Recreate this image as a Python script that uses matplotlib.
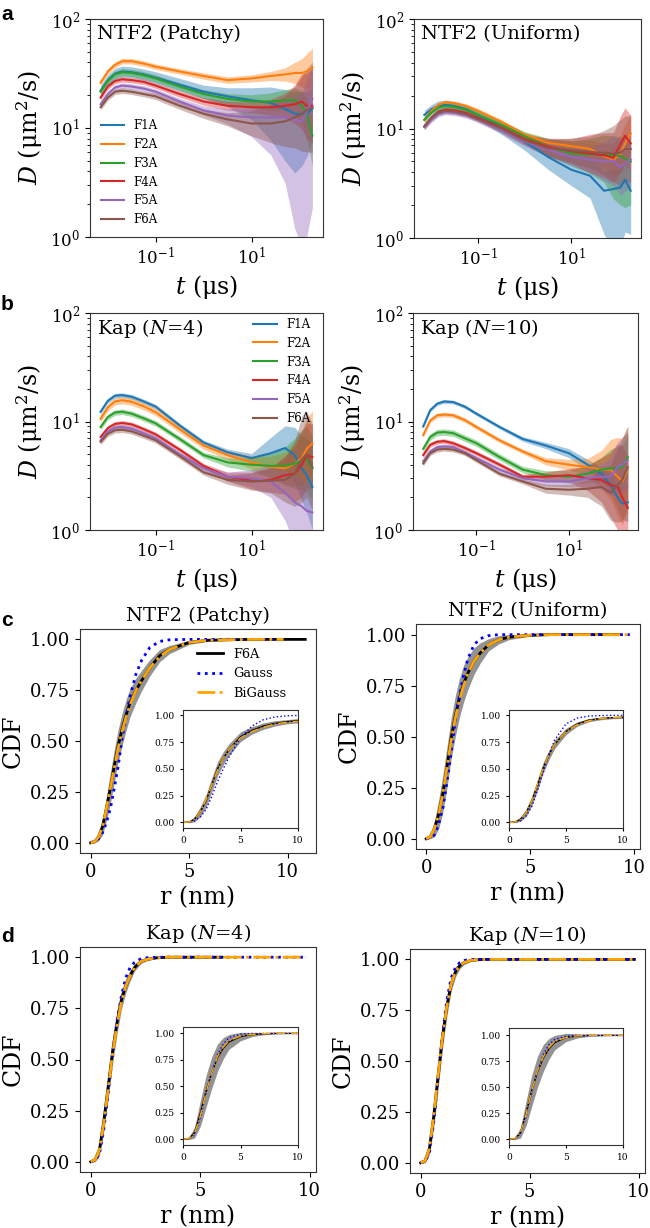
import numpy as np
import matplotlib
matplotlib.use("Agg")
import matplotlib.pyplot as plt
from matplotlib.ticker import FixedLocator, NullLocator

plt.rcParams['font.family'] = 'DejaVu Serif'
plt.rcParams['mathtext.fontset'] = 'dejavuserif'
plt.rcParams['axes.edgecolor'] = '#333333'

#time grid, log10(t / us)
logt = [-2.15, -2.0, -1.85, -1.7, -1.5, -1.25, -1.0, -0.5, 0.0, 0.5, 1.0, 1.4, 1.7, 1.9, 2.05, 2.15, 2.27]
names = ["F1A", "F2A", "F3A", "F4A", "F5A", "F6A"]
colors = ["#1f77b4", "#ff7f0e", "#2ca02c", "#d62728", "#9467bd", "#8c564b"]

#panel a, NTF2 (Patchy): D in um^2/s, band factors below (lo) and above (hi)
patchy_D = [
    [22, 27.5, 31.5, 33, 32.5, 31, 29, 25, 21.5, 19.5, 18, 17, 15, 13.5, 13.5, 13.5, 15],
    [26, 33, 38, 41, 41, 39, 36.5, 33, 30, 27.5, 28.5, 30, 31, 32, 32, 33, 36],
    [21.5, 27, 31, 32.5, 32, 30.5, 28.5, 24, 20.5, 18.5, 17.5, 17.5, 18, 18, 16, 13.5, 8.5],
    [19, 24, 27, 28, 27.5, 26.5, 24.5, 20.5, 17.5, 16, 15.5, 15.5, 16, 16.5, 17.5, 16, 16],
    [16.5, 20.5, 23.5, 24.5, 24, 23, 21.5, 17.5, 14.5, 13, 12.5, 12.5, 12.5, 12, 11.5, 14, 18.5],
    [15.5, 19, 21.5, 22, 21.5, 20.5, 19.5, 16, 13.5, 12, 11, 11, 11.5, 12.5, 13.5, 14.5, 15.5]]
patchy_lo = [
    [1.12, 1.12, 1.12, 1.12, 1.12, 1.12, 1.13, 1.14, 1.15, 1.25, 1.5, 2.2, 3.0, 3.5, 3.0, 2.5, 2.0],
    [1.06, 1.06, 1.06, 1.06, 1.06, 1.06, 1.06, 1.06, 1.07, 1.07, 1.08, 1.1, 1.15, 1.25, 1.35, 1.45, 1.5],
    [1.08, 1.08, 1.08, 1.08, 1.08, 1.08, 1.08, 1.08, 1.1, 1.12, 1.15, 1.2, 1.25, 1.35, 1.5, 1.7, 1.9],
    [1.06, 1.06, 1.06, 1.06, 1.06, 1.06, 1.06, 1.07, 1.08, 1.1, 1.12, 1.18, 1.3, 1.5, 1.8, 2.0, 2.2],
    [1.06, 1.06, 1.06, 1.06, 1.06, 1.06, 1.06, 1.07, 1.1, 1.2, 1.5, 2.2, 4.0, 10, 14, 14, 10],
    [1.06, 1.06, 1.06, 1.06, 1.06, 1.06, 1.07, 1.08, 1.1, 1.15, 1.3, 1.5, 1.7, 1.9, 2.2, 2.4, 2.6]]
patchy_hi = [
    [1.12, 1.12, 1.12, 1.12, 1.12, 1.12, 1.13, 1.14, 1.15, 1.2, 1.3, 1.4, 1.5, 1.6, 1.6, 1.6, 1.6],
    [1.06, 1.06, 1.06, 1.06, 1.06, 1.06, 1.06, 1.06, 1.07, 1.07, 1.08, 1.1, 1.15, 1.25, 1.35, 1.45, 1.5],
    [1.08, 1.08, 1.08, 1.08, 1.08, 1.08, 1.08, 1.08, 1.1, 1.12, 1.15, 1.2, 1.25, 1.3, 1.35, 1.4, 1.4],
    [1.06, 1.06, 1.06, 1.06, 1.06, 1.06, 1.06, 1.07, 1.08, 1.1, 1.12, 1.18, 1.3, 1.5, 1.8, 2.0, 2.2],
    [1.06, 1.06, 1.06, 1.06, 1.06, 1.06, 1.06, 1.07, 1.1, 1.15, 1.2, 1.3, 1.4, 1.6, 1.8, 2.0, 2.0],
    [1.06, 1.06, 1.06, 1.06, 1.06, 1.06, 1.07, 1.08, 1.1, 1.15, 1.3, 1.5, 1.7, 1.9, 2.2, 2.4, 2.6]]

#panel a, NTF2 (Uniform)
uniform_D = [
    [13.3, 15, 16.2, 16.5, 16, 15, 13.3, 10.2, 7.6, 5.5, 4.2, 3.7, 2.7, 2.8, 2.9, 3.4, 2.7],
    [12, 14.5, 16.5, 17.3, 17, 16, 14.5, 11.5, 8.8, 7.4, 6.9, 6.5, 5.6, 5.2, 5.8, 7.3, 9],
    [12, 14, 15.5, 16, 15.7, 14.8, 13.3, 10.8, 8.5, 6.8, 5.9, 5.8, 5.8, 5.7, 5.6, 5.3, 5],
    [10.4, 12.5, 14.2, 14.8, 14.6, 13.8, 12.5, 10.2, 8, 6.8, 6.2, 5.9, 5.7, 5.4, 7.2, 8.6, 7.3],
    [10.3, 12, 13.5, 14.2, 13.9, 13.2, 12, 9.7, 7.6, 6.4, 5.5, 5.2, 5, 5.1, 4.4, 4.8, 5.2],
    [10.5, 12.5, 14, 14.5, 14.3, 13.5, 12.2, 10, 7.8, 6.6, 6.3, 6.1, 6, 5.9, 6, 6.5, 6.5]]
uniform_lo = [
    [1.1, 1.1, 1.1, 1.1, 1.1, 1.1, 1.1, 1.15, 1.2, 1.3, 1.4, 1.6, 2.5, 3.5, 3.5, 3.0, 2.5],
    [1.05, 1.05, 1.05, 1.05, 1.05, 1.05, 1.05, 1.05, 1.05, 1.08, 1.12, 1.2, 1.3, 1.4, 1.5, 1.5, 1.5],
    [1.07, 1.07, 1.07, 1.07, 1.07, 1.07, 1.07, 1.08, 1.1, 1.2, 1.3, 1.5, 1.8, 2.5, 2.8, 2.8, 2.5],
    [1.06, 1.06, 1.06, 1.06, 1.06, 1.06, 1.06, 1.08, 1.1, 1.2, 1.3, 1.5, 1.6, 1.7, 1.8, 1.8, 1.8],
    [1.06, 1.06, 1.06, 1.06, 1.06, 1.06, 1.06, 1.08, 1.1, 1.15, 1.2, 1.3, 1.5, 1.7, 1.8, 1.8, 1.8],
    [1.06, 1.06, 1.06, 1.06, 1.06, 1.06, 1.06, 1.08, 1.1, 1.2, 1.3, 1.4, 1.6, 1.8, 2.0, 2.0, 2.0]]
uniform_hi = [
    [1.1, 1.1, 1.1, 1.1, 1.1, 1.1, 1.1, 1.15, 1.2, 1.3, 1.4, 1.5, 1.5, 1.5, 1.5, 1.5, 1.5],
    [1.05, 1.05, 1.05, 1.05, 1.05, 1.05, 1.05, 1.05, 1.05, 1.08, 1.12, 1.2, 1.3, 1.4, 1.5, 1.5, 1.5],
    [1.07, 1.07, 1.07, 1.07, 1.07, 1.07, 1.07, 1.08, 1.1, 1.2, 1.3, 1.4, 1.5, 1.5, 1.5, 1.5, 1.5],
    [1.06, 1.06, 1.06, 1.06, 1.06, 1.06, 1.06, 1.08, 1.1, 1.2, 1.3, 1.5, 1.6, 1.7, 1.8, 1.8, 1.8],
    [1.06, 1.06, 1.06, 1.06, 1.06, 1.06, 1.06, 1.08, 1.1, 1.15, 1.2, 1.3, 1.5, 1.7, 1.8, 1.8, 1.8],
    [1.06, 1.06, 1.06, 1.06, 1.06, 1.06, 1.06, 1.08, 1.1, 1.2, 1.3, 1.4, 1.6, 1.8, 2.0, 2.0, 2.0]]

#panel b, Kap (N=4)
kap4_D = [
    [12.3, 15.5, 17.3, 17.5, 16.9, 15.3, 13.7, 9.2, 6.4, 5.2, 4.6, 5.1, 5.7, 4.9, 3.7, 3.2, 2.5],
    [10.6, 13.5, 15.3, 15.7, 15.2, 13.8, 12.2, 8.5, 6, 4.9, 4.2, 3.8, 3.7, 4.1, 4.6, 5.6, 6.3],
    [8.9, 11, 12.1, 12.3, 11.8, 10.7, 9.6, 6.9, 4.9, 4.2, 4, 3.9, 3.9, 4.1, 4.4, 4.5, 3.7],
    [7.2, 8.7, 9.5, 9.7, 9.4, 8.5, 7.6, 5.5, 3.9, 3.1, 2.85, 2.9, 3.2, 3.3, 4, 4.9, 4.7],
    [6.7, 8.1, 8.8, 8.9, 8.6, 7.8, 7, 5, 3.7, 3.1, 3, 2.8, 2.2, 1.8, 1.65, 1.5, 1.45],
    [6.5, 7.7, 8.3, 8.4, 8.1, 7.4, 6.7, 4.8, 3.4, 2.9, 2.8, 2.85, 2.9, 3.3, 4.5, 5, 3.8]]
kap4_lo = [
    [1.05, 1.05, 1.05, 1.05, 1.05, 1.05, 1.05, 1.05, 1.05, 1.07, 1.1, 1.4, 1.6, 1.8, 2.0, 2.2, 2.5],
    [1.08, 1.08, 1.08, 1.08, 1.08, 1.08, 1.08, 1.08, 1.08, 1.1, 1.15, 1.25, 1.4, 1.6, 1.8, 1.9, 2.0],
    [1.06, 1.06, 1.06, 1.06, 1.06, 1.06, 1.06, 1.06, 1.06, 1.1, 1.15, 1.3, 1.5, 1.7, 1.9, 2.0, 2.0],
    [1.05, 1.05, 1.05, 1.05, 1.05, 1.05, 1.05, 1.05, 1.05, 1.1, 1.2, 1.3, 1.5, 1.8, 2.0, 2.0, 2.0],
    [1.05, 1.05, 1.05, 1.05, 1.05, 1.05, 1.05, 1.05, 1.05, 1.1, 1.2, 1.4, 1.8, 2.5, 3.0, 3.5, 3.5],
    [1.06, 1.06, 1.06, 1.06, 1.06, 1.06, 1.06, 1.06, 1.06, 1.1, 1.2, 1.3, 1.6, 2.0, 2.5, 2.5, 2.5]]
kap4_hi = [
    [1.05, 1.05, 1.05, 1.05, 1.05, 1.05, 1.05, 1.05, 1.05, 1.07, 1.1, 1.4, 1.6, 1.8, 2.0, 2.2, 2.5],
    [1.08, 1.08, 1.08, 1.08, 1.08, 1.08, 1.08, 1.08, 1.08, 1.1, 1.15, 1.25, 1.4, 1.6, 1.8, 1.9, 2.0],
    [1.06, 1.06, 1.06, 1.06, 1.06, 1.06, 1.06, 1.06, 1.06, 1.1, 1.15, 1.3, 1.5, 1.7, 1.9, 2.0, 2.0],
    [1.05, 1.05, 1.05, 1.05, 1.05, 1.05, 1.05, 1.05, 1.05, 1.1, 1.2, 1.3, 1.5, 1.8, 2.0, 2.0, 2.0],
    [1.05, 1.05, 1.05, 1.05, 1.05, 1.05, 1.05, 1.05, 1.05, 1.1, 1.2, 1.4, 1.6, 1.8, 1.8, 1.8, 1.8],
    [1.06, 1.06, 1.06, 1.06, 1.06, 1.06, 1.06, 1.06, 1.06, 1.1, 1.2, 1.3, 1.6, 2.0, 2.5, 2.5, 2.5]]

#panel b, Kap (N=10)
kap10_D = [
    [9, 12.7, 14.6, 15.3, 15.1, 13.7, 11.8, 8.9, 6.9, 6, 5.1, 4, 3.3, 2.6, 2, 1.75, 1.8],
    [7.5, 10.2, 11.4, 11.6, 11.4, 10.3, 8.9, 6.7, 5.3, 4.3, 4, 3.8, 3.6, 3.6, 3.1, 2.8, 3.6],
    [5.6, 7.2, 7.9, 8, 7.8, 7, 6.3, 4.7, 3.6, 3.2, 3.1, 3.3, 3.6, 3.7, 3.7, 3.8, 4.7],
    [4.9, 6.1, 6.5, 6.6, 6.3, 5.7, 5.1, 4, 3.1, 3.1, 3.2, 3, 2.9, 2.6, 2.5, 2.0, 1.6],
    [4.3, 5.3, 5.8, 5.9, 5.8, 5.2, 4.6, 3.6, 3, 2.8, 2.8, 3, 3.1, 3.1, 3.8, 4, 4.4],
    [4.1, 5.1, 5.5, 5.6, 5.5, 5.1, 4.4, 3.3, 2.8, 2.4, 2.35, 2.4, 2.5, 2.2, 2.6, 2.9, 3.8]]
kap10_lo = [
    [1.04, 1.04, 1.04, 1.04, 1.04, 1.04, 1.04, 1.04, 1.05, 1.07, 1.1, 1.12, 1.15, 1.2, 1.3, 1.4, 1.5],
    [1.05, 1.05, 1.05, 1.05, 1.05, 1.05, 1.05, 1.05, 1.05, 1.08, 1.12, 1.2, 1.5, 1.9, 2.3, 2.5, 2.5],
    [1.07, 1.07, 1.07, 1.07, 1.07, 1.07, 1.07, 1.07, 1.07, 1.1, 1.15, 1.2, 1.3, 1.5, 1.6, 1.6, 1.6],
    [1.05, 1.05, 1.05, 1.05, 1.05, 1.05, 1.05, 1.05, 1.05, 1.1, 1.15, 1.3, 1.6, 2.0, 2.5, 3.0, 3.0],
    [1.05, 1.05, 1.05, 1.05, 1.05, 1.05, 1.05, 1.05, 1.05, 1.1, 1.12, 1.2, 1.3, 1.5, 1.7, 1.8, 1.8],
    [1.05, 1.05, 1.05, 1.05, 1.05, 1.05, 1.05, 1.05, 1.05, 1.1, 1.12, 1.2, 1.5, 1.8, 2.2, 2.4, 2.4]]
kap10_hi = kap10_lo

#CDF data, main panels
r_main = [0, 0.2, 0.4, 0.6, 0.8, 1.0, 1.2, 1.4, 1.6, 1.8, 2.0, 2.3, 2.6, 3.0, 3.5, 4, 5, 6, 8, 9.8]
f6a_end = [10.9, 9.3, 6.0, 9.8]
cdf_f6a = [
    [0, 0.005, 0.03, 0.08, 0.17, 0.27, 0.38, 0.48, 0.56, 0.63, 0.69, 0.75, 0.8, 0.86, 0.92, 0.95, 0.985, 0.996, 1, 1],
    [0, 0.01, 0.05, 0.12, 0.22, 0.35, 0.49, 0.6, 0.69, 0.76, 0.81, 0.87, 0.91, 0.95, 0.975, 0.988, 0.997, 1, 1, 1],
    [0, 0.01, 0.06, 0.2, 0.37, 0.54, 0.68, 0.79, 0.86, 0.91, 0.95, 0.98, 0.99, 0.997, 1, 1, 1, 1, 1, 1],
    [0, 0.01, 0.07, 0.23, 0.43, 0.62, 0.77, 0.88, 0.94, 0.97, 0.985, 0.995, 0.998, 1, 1, 1, 1, 1, 1, 1]]
cdf_gauss = [
    [0, 0.01, 0.02, 0.05, 0.1, 0.17, 0.27, 0.38, 0.52, 0.62, 0.72, 0.83, 0.9, 0.96, 0.99, 0.998, 1, 1, 1, 1],
    [0, 0.005, 0.02, 0.07, 0.15, 0.28, 0.42, 0.58, 0.7, 0.8, 0.88, 0.95, 0.98, 0.995, 1, 1, 1, 1, 1, 1],
    [0, 0.005, 0.04, 0.16, 0.34, 0.53, 0.69, 0.81, 0.9, 0.95, 0.975, 0.993, 0.998, 1, 1, 1, 1, 1, 1, 1],
    [0, 0.005, 0.05, 0.2, 0.42, 0.63, 0.8, 0.91, 0.96, 0.985, 0.995, 1, 1, 1, 1, 1, 1, 1, 1, 1]]
cdf_bigauss = [
    [0, 0.005, 0.03, 0.08, 0.17, 0.27, 0.37, 0.47, 0.55, 0.62, 0.68, 0.75, 0.8, 0.86, 0.915, 0.95, 0.985, 0.996, 1, 1],
    [0, 0.01, 0.05, 0.12, 0.22, 0.35, 0.48, 0.59, 0.68, 0.75, 0.81, 0.87, 0.91, 0.95, 0.975, 0.988, 0.997, 1, 1, 1],
    [0, 0.01, 0.06, 0.19, 0.36, 0.53, 0.67, 0.78, 0.86, 0.91, 0.95, 0.98, 0.99, 0.997, 1, 1, 1, 1, 1, 1],
    [0, 0.01, 0.07, 0.23, 0.43, 0.62, 0.77, 0.88, 0.94, 0.97, 0.985, 0.995, 0.998, 1, 1, 1, 1, 1, 1, 1]]
cdf_band = [
    [0, 0.005, 0.02, 0.04, 0.06, 0.075, 0.08, 0.08, 0.08, 0.075, 0.07, 0.06, 0.05, 0.04, 0.03, 0.02, 0.01, 0.005, 0, 0],
    [0, 0.01, 0.04, 0.07, 0.09, 0.1, 0.1, 0.1, 0.095, 0.09, 0.08, 0.065, 0.05, 0.03, 0.02, 0.012, 0.005, 0, 0, 0],
    [0, 0.01, 0.03, 0.05, 0.06, 0.06, 0.055, 0.045, 0.035, 0.025, 0.018, 0.01, 0.006, 0.003, 0, 0, 0, 0, 0, 0],
    [0, 0.01, 0.03, 0.055, 0.065, 0.06, 0.05, 0.035, 0.025, 0.015, 0.01, 0.005, 0.003, 0, 0, 0, 0, 0, 0, 0]]

#CDF data, insets
r_in = [0, 0.5, 1, 1.5, 2, 2.5, 3, 3.5, 4, 5, 6, 7, 8, 9, 10]
in_f6a = [
    [0, 0.003, 0.03, 0.1, 0.2, 0.35, 0.5, 0.6, 0.68, 0.8, 0.86, 0.9, 0.925, 0.94, 0.95],
    [0, 0.003, 0.03, 0.09, 0.2, 0.35, 0.51, 0.63, 0.73, 0.85, 0.92, 0.955, 0.97, 0.978, 0.982],
    [0, 0.005, 0.06, 0.24, 0.45, 0.63, 0.77, 0.86, 0.92, 0.97, 0.99, 0.997, 1, 1, 1],
    [0, 0.005, 0.06, 0.25, 0.47, 0.65, 0.78, 0.87, 0.93, 0.98, 0.995, 1, 1, 1, 1]]
in_gauss = [
    [0, 0.002, 0.015, 0.05, 0.12, 0.24, 0.38, 0.5, 0.61, 0.79, 0.9, 0.96, 0.985, 0.995, 1.0],
    [0, 0.002, 0.015, 0.06, 0.15, 0.3, 0.47, 0.63, 0.77, 0.92, 0.975, 0.993, 0.998, 1, 1],
    [0, 0.003, 0.04, 0.2, 0.43, 0.63, 0.8, 0.9, 0.96, 0.993, 0.999, 1, 1, 1, 1],
    [0, 0.003, 0.05, 0.22, 0.46, 0.66, 0.81, 0.91, 0.96, 0.993, 1, 1, 1, 1, 1]]
in_bigauss = [
    [0, 0.003, 0.03, 0.1, 0.21, 0.35, 0.49, 0.6, 0.68, 0.79, 0.85, 0.89, 0.92, 0.935, 0.945],
    [0, 0.003, 0.03, 0.09, 0.2, 0.36, 0.51, 0.63, 0.73, 0.85, 0.915, 0.95, 0.97, 0.978, 0.982],
    [0, 0.005, 0.05, 0.22, 0.44, 0.63, 0.78, 0.87, 0.93, 0.975, 0.992, 0.998, 1, 1, 1],
    [0, 0.005, 0.06, 0.24, 0.47, 0.66, 0.79, 0.88, 0.94, 0.98, 0.996, 1, 1, 1, 1]]
in_band = [
    [0, 0.005, 0.025, 0.045, 0.06, 0.065, 0.065, 0.06, 0.055, 0.045, 0.035, 0.03, 0.025, 0.02, 0.02],
    [0, 0.005, 0.02, 0.035, 0.045, 0.05, 0.05, 0.045, 0.04, 0.03, 0.02, 0.015, 0.012, 0.01, 0.01],
    [0, 0.01, 0.05, 0.12, 0.15, 0.15, 0.13, 0.1, 0.07, 0.04, 0.02, 0.01, 0.005, 0, 0],
    [0, 0.01, 0.05, 0.12, 0.15, 0.15, 0.13, 0.1, 0.07, 0.04, 0.02, 0.01, 0.005, 0, 0]]

cdf_titles = ["NTF2 (Patchy)", "NTF2 (Uniform)", "Kap ($N$=4)", "Kap ($N$=10)"]

#figure, axes placed in pixels
W, H = 650, 1228
fig = plt.figure(figsize=(6.5, 12.28), dpi=100)


def box(x0, y0, x1, y1):
    return [x0 / W, 1 - y1 / H, (x1 - x0) / W, (y1 - y0) / H]


t = 10 ** np.array(logt)


def d_panel(rect, D, lo, hi, label):
    ax = fig.add_axes(box(*rect))
    for i in range(6):
        d = np.array(D[i])
        ax.fill_between(t, d / np.array(lo[i]), d * np.array(hi[i]),
                        color=colors[i], alpha=0.4, lw=0)
    for i in range(6):
        ax.plot(t, D[i], color=colors[i], lw=1.5, label=names[i])
    ax.set_xscale("log")
    ax.set_yscale("log")
    ax.set_ylim(1, 100)
    ax.xaxis.set_major_locator(FixedLocator([1e-1, 1e1]))
    ax.xaxis.set_minor_locator(NullLocator())
    ax.tick_params(labelsize=12)
    ax.set_xlabel("$t$ (μs)", fontsize=17)
    ax.set_ylabel("$D$ (μm$^2$/s)", fontsize=17)
    ax.text(0.03, 0.93, label, transform=ax.transAxes, fontsize=14, va="center")
    return ax


ax = d_panel((90, 19, 323, 237), patchy_D, patchy_lo, patchy_hi, "NTF2 (Patchy)")
ax.legend(loc="lower left", frameon=False, fontsize=8.5, handlelength=2.0)
d_panel((414, 19, 641, 238), uniform_D, uniform_lo, uniform_hi, "NTF2 (Uniform)")
ax = d_panel((90, 313, 323, 530), kap4_D, kap4_lo, kap4_hi, "Kap ($N$=4)")
ax.legend(loc="upper left", bbox_to_anchor=(0.68, 1.0), borderaxespad=0,
          frameon=False, fontsize=8.5, handlelength=2.0)
d_panel((413, 313, 638, 530), kap10_D, kap10_lo, kap10_hi, "Kap ($N$=10)")

#CDF panels
cdf_rects = [(80, 629, 316, 853), (416, 624, 640, 849), (80, 947, 316, 1172), (410, 949, 645, 1173)]
inset_rects = [(183, 710, 298, 828), (509, 710, 623, 828), (183, 1027, 298, 1145), (509, 1028, 623, 1145)]

for k in range(4):
    ax = fig.add_axes(box(*cdf_rects[k]))
    r = np.array(r_main)
    b = np.array(cdf_band[k])
    blk = np.array(cdf_f6a[k])
    ax.fill_between(r, blk - b, blk + b, color="gray", alpha=0.85, lw=0)
    rb = r[r <= f6a_end[k]]
    yb = blk[r <= f6a_end[k]]
    if f6a_end[k] > rb[-1]:
        rb = np.append(rb, f6a_end[k])
        yb = np.append(yb, yb[-1])
    ax.plot(rb, yb, color="black", lw=2, label="F6A")
    ax.plot(r, cdf_gauss[k], color="blue", ls=":", lw=2, label="Gauss")
    ax.plot(r, cdf_bigauss[k], color="orange", ls="-.", lw=2, label="BiGauss")
    ax.set_yticks([0, 0.25, 0.5, 0.75, 1.0])
    ax.set_yticklabels(["0.00", "0.25", "0.50", "0.75", "1.00"])
    ax.set_xticks([0, 5, 10])
    ax.tick_params(labelsize=13)
    ax.set_xlabel("r (nm)", fontsize=17)
    ax.set_ylabel("CDF", fontsize=17)
    ax.set_title(cdf_titles[k], fontsize=14)
    if k == 0:
        ax.legend(loc="upper left", bbox_to_anchor=(0.474, 0.94), borderaxespad=0,
                  frameon=False, fontsize=9.3, handlelength=2.0)

    #inset
    axi = fig.add_axes(box(*inset_rects[k]))
    ri = np.array(r_in)
    bi = np.array(in_band[k])
    bl = np.array(in_f6a[k])
    axi.fill_between(ri, bl - bi, bl + bi, color="gray", alpha=0.85, lw=0)
    axi.plot(ri, bl, color="black", lw=1)
    axi.plot(ri, in_gauss[k], color="blue", ls=":", lw=1)
    axi.plot(ri, in_bigauss[k], color="orange", ls="-.", lw=1)
    axi.set_xlim(0, 10)
    axi.set_xticks([0, 5, 10])
    axi.set_yticks([0, 0.25, 0.5, 0.75, 1.0])
    axi.set_yticklabels(["0.00", "0.25", "0.50", "0.75", "1.00"])
    axi.tick_params(labelsize=6.5, length=2.5)

#panel letters
for lab, yy in [("a", 15), ("b", 305), ("c", 621), ("d", 937)]:
    fig.text(1 / W, 1 - yy / H, lab, fontsize=15, fontweight="bold",
             family="Liberation Sans", va="center", ha="left")

fig.savefig("out.png", dpi=100)
